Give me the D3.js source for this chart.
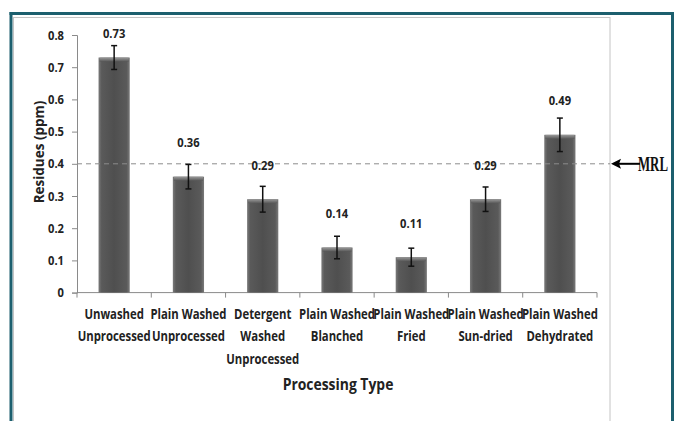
<!DOCTYPE html>
<html>
<head>
<meta charset="utf-8">
<script src="https://cdn.jsdelivr.net/npm/d3@7"></script>
<style>
  html, body { margin: 0; padding: 0; background: #fff; }
  svg { display: block; }
  .lbl { font-family: "Open Sans", "Noto Sans", sans-serif; }
</style>
</head>
<body>
<svg id="chart" width="674" height="421"></svg>
<script>
// Pesticide residues by processing type (ppm)
const categories = [
  ["Unwashed", "Unprocessed"],
  ["Plain Washed", "Unprocessed"],
  ["Detergent", "Washed", "Unprocessed"],
  ["Plain Washed", "Blanched"],
  ["Plain Washed", "Fried"],
  ["Plain Washed", "Sun-dried"],
  ["Plain Washed", "Dehydrated"]
];
const residues = [0.73, 0.36, 0.29, 0.14, 0.11, 0.29, 0.49];
const errors   = [0.037, 0.038, 0.04, 0.035, 0.028, 0.038, 0.052];
const yTicks   = [0, 0.1, 0.2, 0.3, 0.4, 0.5, 0.6, 0.7, 0.8];
const mrl = 0.4;

const svg = d3.select("#chart");
const W = 674, H = 421;
const plot = { left: 77, right: 597, top: 35, bottom: 292.6 };
const narrow = 0.86; // horizontal squeeze for a condensed look

svg.append("rect").attr("width", W).attr("height", H).attr("fill", "#fff");

// inner chart frame
svg.append("rect")
  .attr("x", 13.5).attr("y", 17.5)
  .attr("width", 596.5).attr("height", 420)
  .attr("fill", "none").attr("stroke", "#c4c4c4").attr("stroke-width", 1);

const keys = categories.map((c, i) => i);
const x = d3.scaleBand().domain(keys).range([plot.left, plot.right]).padding(0);
const y = d3.scaleLinear().domain([0, 0.8]).range([plot.bottom, plot.top]);
const barW = x.bandwidth() * 0.42;
const cx = i => x(i) + x.bandwidth() / 2;

// bar gradients
const defs = svg.append("defs");
const g1 = defs.append("linearGradient").attr("id", "barFill").attr("x1", 0).attr("x2", 1).attr("y1", 0).attr("y2", 0);
[["0%", "#7a7a7a"], ["10%", "#5a5a5a"], ["50%", "#4f4f4f"], ["90%", "#5a5a5a"], ["100%", "#7a7a7a"]]
  .forEach(([o, c]) => g1.append("stop").attr("offset", o).attr("stop-color", c));
const g2 = defs.append("linearGradient").attr("id", "barTop").attr("x1", 0).attr("x2", 0).attr("y1", 0).attr("y2", 1);
[["0%", "#9a9a9a"], ["100%", "#585858"]]
  .forEach(([o, c]) => g2.append("stop").attr("offset", o).attr("stop-color", c));

// y axis
const yAxis = d3.axisLeft(y).tickValues(yTicks).tickSize(5).tickPadding(8)
  .tickFormat(d => d === 0 ? "0" : d3.format(".1f")(d));
const gy = svg.append("g").attr("transform", `translate(${plot.left},0)`).call(yAxis);
gy.select(".domain").attr("stroke", "#8a8a8a");
gy.selectAll(".tick line").attr("stroke", "#8a8a8a");
gy.selectAll(".tick text").attr("class", "lbl").attr("font-size", 13).attr("font-weight", "bold").attr("fill", "#222")
  .attr("transform", function() { return `translate(${this.getAttribute("x")},0) scale(${narrow},1)`; })
  .attr("x", 0);

// x axis with ticks between categories
const xEdges = keys.map(k => x(k)).concat([plot.right]);
svg.append("line").attr("x1", plot.left).attr("x2", plot.right)
  .attr("y1", plot.bottom).attr("y2", plot.bottom).attr("stroke", "#8a8a8a");
svg.selectAll(".xtick").data(xEdges).join("line").attr("class", "xtick")
  .attr("x1", d => d).attr("x2", d => d)
  .attr("y1", plot.bottom).attr("y2", plot.bottom + 5).attr("stroke", "#8a8a8a");

// bars
const bars = svg.append("g");
bars.selectAll("rect.bar").data(residues).join("rect").attr("class", "bar")
  .attr("x", (d, i) => cx(i) - barW / 2)
  .attr("y", d => y(d)).attr("width", barW).attr("height", d => y(0) - y(d))
  .attr("fill", "url(#barFill)");
bars.selectAll("rect.bevel").data(residues).join("rect").attr("class", "bevel")
  .attr("x", (d, i) => cx(i) - barW / 2 + 1)
  .attr("y", d => y(d)).attr("width", barW - 2).attr("height", 4)
  .attr("fill", "url(#barTop)");

// MRL reference line
svg.append("line").attr("x1", plot.left).attr("x2", 610)
  .attr("y1", y(mrl)).attr("y2", y(mrl))
  .attr("stroke", "#8c8c8c").attr("stroke-width", 1).attr("stroke-dasharray", "5,4");

// error bars
const eb = svg.append("g").attr("stroke", "#111").attr("stroke-width", 1.5);
residues.forEach((v, i) => {
  const e = errors[i];
  eb.append("line").attr("x1", cx(i)).attr("x2", cx(i)).attr("y1", y(v + e)).attr("y2", y(v - e));
  eb.append("line").attr("x1", cx(i) - 3).attr("x2", cx(i) + 3).attr("y1", y(v + e)).attr("y2", y(v + e));
  eb.append("line").attr("x1", cx(i) - 3).attr("x2", cx(i) + 3).attr("y1", y(v - e)).attr("y2", y(v - e));
});

// value labels
svg.selectAll("text.val").data(residues).join("text").attr("class", "val lbl")
  .attr("transform", (d, i) => `translate(${cx(i)},${Math.max(y(d) - 34, 33) + 4.5}) scale(${narrow},1)`)
  .attr("text-anchor", "middle").attr("font-size", 13).attr("font-weight", "bold").attr("fill", "#222")
  .text(d => d3.format(".2f")(d));

// category labels
const cl = svg.selectAll("text.cat").data(categories).join("text").attr("class", "cat lbl")
  .attr("transform", (d, i) => `translate(${cx(i)},0) scale(0.81,1)`)
  .attr("text-anchor", "middle").attr("font-size", 14).attr("font-weight", "bold").attr("fill", "#222");
cl.each(function(lines) {
  d3.select(this).selectAll("tspan").data(lines).join("tspan")
    .attr("x", 0)
    .attr("y", (d, j) => 319 + j * 22.5)
    .text(d => d);
});

// axis titles
svg.append("text").attr("class", "lbl")
  .attr("transform", `translate(44,152) rotate(-90) scale(0.9,1)`)
  .attr("text-anchor", "middle").attr("font-size", 15).attr("font-weight", "bold").attr("fill", "#222")
  .text("Residues (ppm)");
svg.append("text").attr("class", "lbl")
  .attr("transform", `translate(338,390) scale(0.87,1)`)
  .attr("text-anchor", "middle").attr("font-size", 16).attr("font-weight", "bold").attr("fill", "#222")
  .text("Processing Type");

// MRL arrow and label
const ay = y(mrl);
svg.append("line").attr("x1", 618).attr("x2", 640).attr("y1", ay).attr("y2", ay)
  .attr("stroke", "#000").attr("stroke-width", 2);
svg.append("path").attr("d", `M611,${ay} L621,${ay - 5} L619,${ay} L621,${ay + 5} Z`).attr("fill", "#000");
const mrlText = svg.append("text")
  .attr("font-family", "Liberation Serif, serif").attr("font-size", 22).attr("font-weight", "bold")
  .attr("fill", "#111").text("MRL");
const mrlScale = 30 / mrlText.node().getComputedTextLength();
mrlText.attr("transform", `translate(638,${ay + 7.5}) scale(${mrlScale},1)`);

// outer teal frame
const frame = svg.append("g").attr("stroke", "#1c5f6e").attr("stroke-width", 3);
frame.append("line").attr("x1", 9.5).attr("x2", 674).attr("y1", 13.5).attr("y2", 13.5);
frame.append("line").attr("x1", 11).attr("x2", 11).attr("y1", 12).attr("y2", H);
frame.append("line").attr("x1", 672.5).attr("x2", 672.5).attr("y1", 12).attr("y2", H);
</script>
</body>
</html>
